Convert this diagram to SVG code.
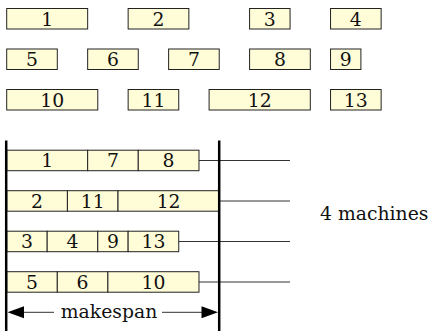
<svg xmlns="http://www.w3.org/2000/svg" width="433" height="331" viewBox="0 0 433 331">
<style>
.b{fill:#FFFCD8;stroke:#222;stroke-width:1}
.t{font-family:"DejaVu Serif",serif;font-size:18.8px;fill:#111;text-anchor:middle}
.l{stroke:#333;stroke-width:1;fill:none}
.k{stroke:#000;stroke-width:2.5;fill:none}
.h{fill:#000}
</style>
<rect width="433" height="331" fill="#fff"/>
<g id="jobs">
<g id="j1"><rect class="b" x="6.7" y="8.5" width="80.96" height="20.5"/><text class="t" x="47.2" y="25.7">1</text></g>
<g id="j2"><rect class="b" x="128.14" y="8.5" width="60.72" height="20.5"/><text class="t" x="158.5" y="25.7">2</text></g>
<g id="j3"><rect class="b" x="249.58" y="8.5" width="40.48" height="20.5"/><text class="t" x="269.8" y="25.7">3</text></g>
<g id="j4"><rect class="b" x="330.54" y="8.5" width="50.6" height="20.5"/><text class="t" x="355.8" y="25.7">4</text></g>
<g id="j5"><rect class="b" x="6.7" y="49" width="50.6" height="20.5"/><text class="t" x="32" y="66.2">5</text></g>
<g id="j6"><rect class="b" x="87.66" y="49" width="50.6" height="20.5"/><text class="t" x="113" y="66.2">6</text></g>
<g id="j7"><rect class="b" x="168.62" y="49" width="50.6" height="20.5"/><text class="t" x="193.9" y="66.2">7</text></g>
<g id="j8"><rect class="b" x="249.58" y="49" width="60.72" height="20.5"/><text class="t" x="279.9" y="66.2">8</text></g>
<g id="j9"><rect class="b" x="330.54" y="49" width="30.36" height="20.5"/><text class="t" x="345.7" y="66.2">9</text></g>
<g id="j10"><rect class="b" x="6.7" y="89.5" width="91.08" height="20.5"/><text class="t" x="52.2" y="106.7">10</text></g>
<g id="j11"><rect class="b" x="128.14" y="89.5" width="50.6" height="20.5"/><text class="t" x="153.4" y="106.7">11</text></g>
<g id="j12"><rect class="b" x="209.1" y="89.5" width="101.2" height="20.5"/><text class="t" x="259.7" y="106.7">12</text></g>
<g id="j13"><rect class="b" x="330.54" y="89.5" width="50.6" height="20.5"/><text class="t" x="355.8" y="106.7">13</text></g>
</g>
<g id="connectors">
<line class="l" x1="198.98" y1="160.5" x2="290" y2="160.5"/>
<line class="l" x1="219.22" y1="201" x2="290" y2="201"/>
<line class="l" x1="178.74" y1="241.5" x2="290" y2="241.5"/>
<line class="l" x1="198.98" y1="282" x2="290" y2="282"/>
<line class="l" x1="22" y1="312.3" x2="54" y2="312.3"/>
<line class="l" x1="162" y1="312.3" x2="203" y2="312.3"/>
<polygon class="h" points="7.5,312.3 24,306.3 24,318.3"/>
<polygon class="h" points="218,312.3 201.5,306.3 201.5,318.3"/>
</g>
<g id="m1">
<rect class="b" x="6.7" y="150.2" width="80.96" height="20.5"/><text class="t" x="47.2" y="167.2">1</text>
<rect class="b" x="87.66" y="150.2" width="50.6" height="20.5"/><text class="t" x="113" y="167.2">7</text>
<rect class="b" x="138.26" y="150.2" width="60.72" height="20.5"/><text class="t" x="168.6" y="167.2">8</text>
</g>
<g id="m2">
<rect class="b" x="6.7" y="190.7" width="60.72" height="20.5"/><text class="t" x="37.1" y="207.7">2</text>
<rect class="b" x="67.42" y="190.7" width="50.6" height="20.5"/><text class="t" x="92.7" y="207.7">11</text>
<rect class="b" x="118.02" y="190.7" width="101.2" height="20.5"/><text class="t" x="168.6" y="207.7">12</text>
</g>
<g id="m3">
<rect class="b" x="6.7" y="231.2" width="40.48" height="20.5"/><text class="t" x="26.9" y="248.2">3</text>
<rect class="b" x="47.18" y="231.2" width="50.6" height="20.5"/><text class="t" x="72.5" y="248.2">4</text>
<rect class="b" x="97.78" y="231.2" width="30.36" height="20.5"/><text class="t" x="113" y="248.2">9</text>
<rect class="b" x="128.14" y="231.2" width="50.6" height="20.5"/><text class="t" x="153.4" y="248.2">13</text>
</g>
<g id="m4">
<rect class="b" x="6.7" y="271.7" width="50.6" height="20.5"/><text class="t" x="32" y="288.7">5</text>
<rect class="b" x="57.3" y="271.7" width="50.6" height="20.5"/><text class="t" x="82.6" y="288.7">6</text>
<rect class="b" x="107.9" y="271.7" width="91.08" height="20.5"/><text class="t" x="153.4" y="288.7">10</text>
</g>
<g id="bounds">
<line class="k" x1="6.2" y1="140.5" x2="6.2" y2="331"/>
<line class="k" x1="219.2" y1="140.5" x2="219.2" y2="331"/>
</g>
<g id="makespan"><text class="t" x="109" y="317.7">makespan</text></g>
<g id="machines"><text class="t" x="320" y="219.5" style="text-anchor:start">4 machines</text></g>
</svg>
